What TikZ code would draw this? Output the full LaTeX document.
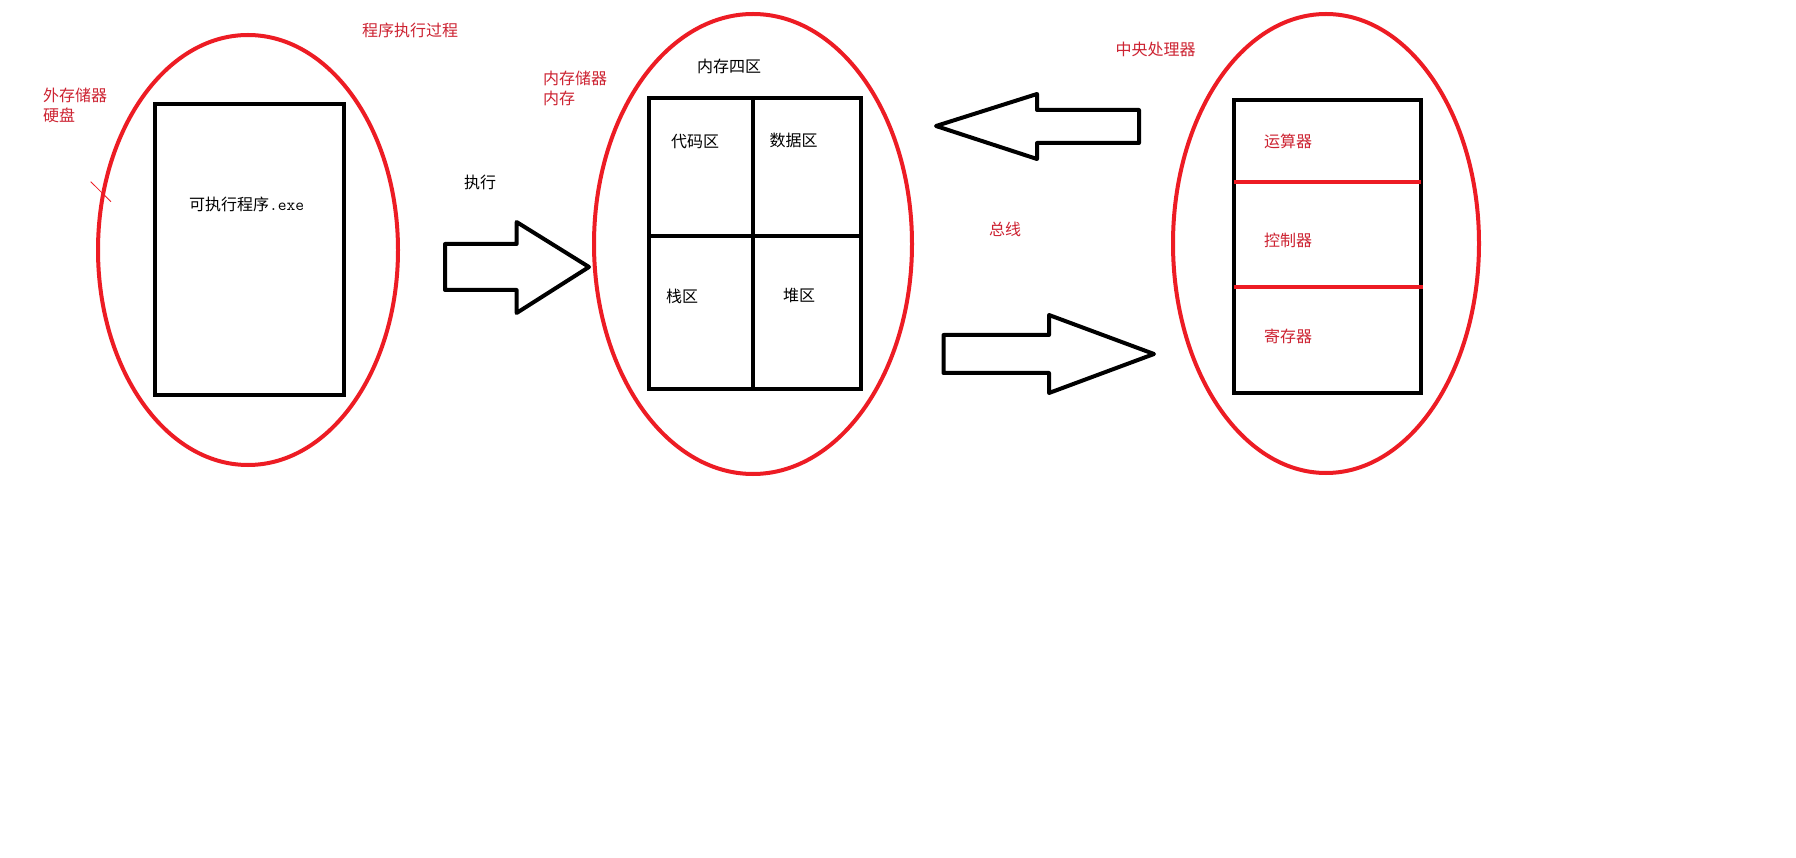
\documentclass[tikz,border=0pt]{standalone}
\usepackage{fontspec}
\newfontfamily\cjk{Noto Sans CJK SC}
\usetikzlibrary{shapes.geometric}
\definecolor{pred}{RGB}{237,28,36}
\definecolor{tred}{RGB}{205,35,50}
\tikzset{
  oval/.style={ellipse, draw=pred, line width=4pt, inner sep=0pt},
  box/.style={rectangle, draw=black, line width=4pt, inner sep=0pt},
  divider/.style={draw=pred, line width=4.5pt},
  blockarrow/.style={draw=black, line width=4pt, line join=round, fill=white},
  lbl/.style={anchor=west, inner sep=0pt, font=\cjk\fontsize{16}{18}\selectfont},
  rlbl/.style={lbl, text=tred},
  blbl/.style={lbl, text=black},
}
\begin{document}
\begin{tikzpicture}[x=1pt, y=-1pt]
\useasboundingbox[fill=white] (0,0) rectangle (1796,858);

% ellipses
\node[oval, minimum width=300pt, minimum height=430pt] (disk) at (248,250) {};
\node[oval, minimum width=318pt, minimum height=460pt] (mem) at (753,244) {};
\node[oval, minimum width=306pt, minimum height=459pt] (cpu) at (1326,243.5) {};

% boxes
\node[box, minimum width=189pt, minimum height=291pt] (exe) at (249.5,249.5) {};
\node[box, minimum width=212pt, minimum height=291pt] (grid) at (755,243.5) {};
\draw[line width=4pt] (753,98) -- (753,389);
\draw[line width=4pt] (649,236) -- (861,236);
\node[box, minimum width=187pt, minimum height=293pt] (cpubox) at (1327.5,246.5) {};
\draw[divider] (1234,182) -- (1421,182);
\draw[divider] (1234,287) -- (1423,287);

% small tick
\draw[pred, line width=0.8pt] (90.7,181.7) -- (111,201.7);

% block arrows
\draw[blockarrow] (445,244) -- (516.6,244) -- (516.6,222) -- (589,267) -- (516.6,313) -- (516.6,290) -- (445,290) -- cycle;
\draw[blockarrow] (1139,110) -- (1037,110) -- (1037,94) -- (936,126) -- (1037,159) -- (1037,143) -- (1139,143) -- cycle;
\draw[blockarrow] (943.5,335) -- (1049,335) -- (1049,315) -- (1154,354) -- (1049,393) -- (1049,373) -- (943.5,373) -- cycle;

% labels
\node[rlbl] (title) at (362,30) {程序执行过程};
\node[rlbl] (ext1) at (43,95) {外存储器};
\node[rlbl] (ext2) at (43,115) {硬盘};
\node[blbl] (prog) at (189,204) {可执行程序{\fontspec{Latin Modern Mono}\fontsize{17}{18}\selectfont.exe}};
\node[blbl] (run) at (464,182) {执行};
\node[rlbl] (int1) at (543,78) {内存储器};
\node[rlbl] (int2) at (543,98) {内存};
\node[blbl] (four) at (697,66) {内存四区};
\node[blbl] (code) at (671,142) {代码区};
\node[blbl] (data) at (769.5,140) {数据区};
\node[blbl] (stack) at (666,296) {栈区};
\node[blbl] (heap) at (783,295) {堆区};
\node[rlbl] (bus) at (989,229) {总线};
\node[rlbl] (cpulbl) at (1115.5,49) {中央处理器};
\node[rlbl] (alu) at (1264,141) {运算器};
\node[rlbl] (ctrl) at (1264,240) {控制器};
\node[rlbl] (reg) at (1264,336) {寄存器};
\end{tikzpicture}
\end{document}
